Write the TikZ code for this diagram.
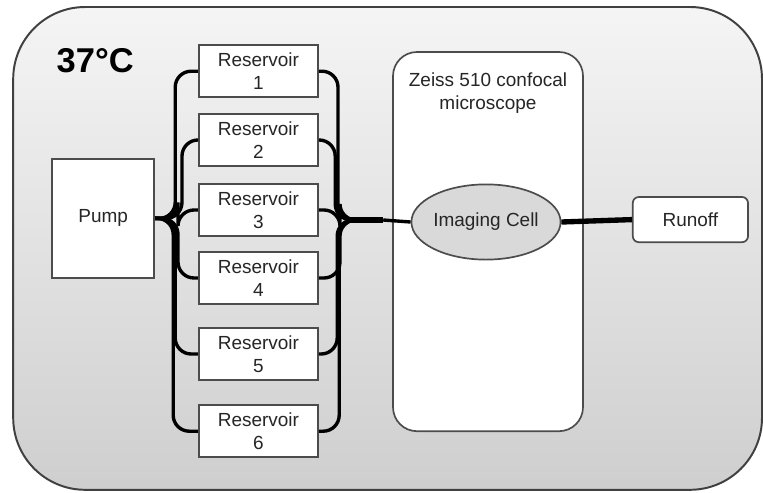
\documentclass[tikz,border=0pt]{standalone}
\usepackage{fontspec}
\setmainfont{Liberation Sans}
\usetikzlibrary{shapes.geometric}

\begin{document}
\begin{tikzpicture}[font=\fontsize{13.5}{16.5}\selectfont]
%% styles for the flow set-up, sizes in cm
\tikzstyle{chamber}=[draw=black!75,line width=1.4pt,rounded corners=1.8cm,top color=gray!8,bottom color=gray!38,minimum width=18.72cm,minimum height=12.07cm]
\tikzstyle{box}=[draw=black!70,line width=1.2pt,fill=white,text=black!85,align=center]
\tikzstyle{reservoir}=[box,minimum width=2.98cm,minimum height=1.3cm,inner sep=0pt]
\tikzstyle{tube}=[line width=2.4pt,black,rounded corners=0.4cm]
\tikzstyle{bundle}=[line width=4.4pt,black]
\useasboundingbox (0,0) rectangle (19.075,-12.325);
%% incubator and temperature
\node[chamber] at (9.69,-6.21) (incubator) {};
\node[font=\fontsize{24.5}{28}\selectfont\bfseries] at (2.38,-1.52) (temp) {37°C};
%% pump, microscope and outlet
\node[box,minimum width=2.55cm,minimum height=2.98cm] at (2.58,-5.46) (pump) {Pump};
\node[box,rounded corners=0.6cm,minimum width=4.75cm,minimum height=9.48cm] at (12.2,-6.04) (scope) {};
\node[text=black!85,align=center] at (12.2,-2.32) (scopelabel) {Zeiss 510 confocal\\microscope};
\node[ellipse,draw=black!70,line width=1.2pt,fill=gray!30,text=black!85,minimum width=3.45cm,minimum height=1.88cm,inner sep=0pt] at (12.15,-5.55) (cell) {Imaging Cell};
\node[box,rounded corners=0.15cm,minimum width=2.88cm,minimum height=1.13cm] at (17.26,-5.49) (runoff) {Runoff};
%% junctions of the tubing
\coordinate (merge) at (8.7,-5.5);
\coordinate (joint) at (9.58,-5.5);
%% reservoirs with their in- and outlet tubes
\foreach \i/\y/\xl/\xr in {1/-1.78/4.38/8.45, 2/-3.5/4.55/8.38, 3/-5.25/4.45/8.5,
                           4/-6.95/4.45/8.5, 5/-8.85/4.38/8.43, 6/-10.78/4.33/8.48} {
  \node[reservoir] at (6.46,\y) (res\i) {Reservoir\\\i};
  \draw[tube] (pump.east) -| (\xl,\y) -- (res\i.west);
  \draw[tube] (res\i.east) -| (\xr,-5.5) -- (merge);
}
\draw[bundle] (merge) -- (joint);
\draw[line width=2.4pt] (joint) -- (cell.west);
\draw[line width=3.8pt] (cell.east) -- (runoff.west);
\end{tikzpicture}
\end{document}
